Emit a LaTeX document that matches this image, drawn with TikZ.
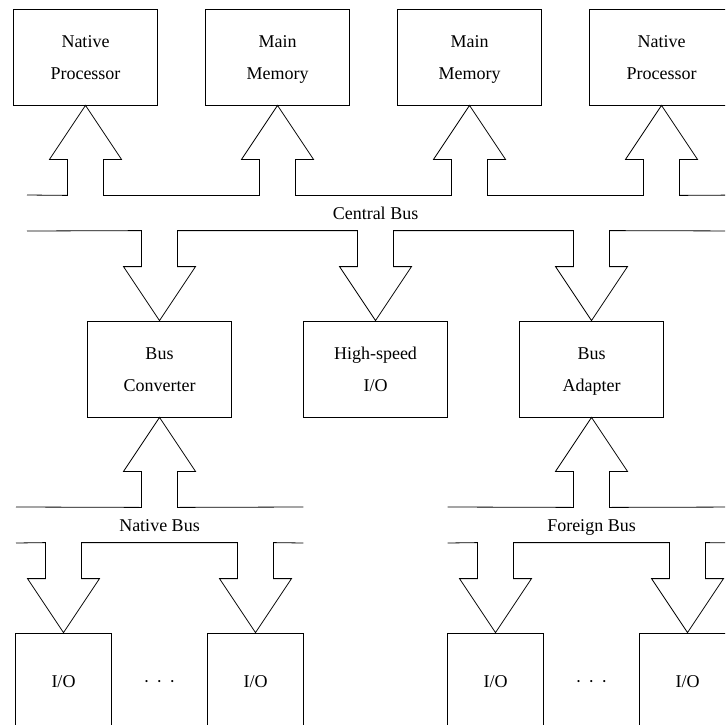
\documentclass[tikz,border=0pt]{standalone}
\usepackage{fontspec}
\setmainfont{Liberation Serif}
\usetikzlibrary{calc}
\tikzset{
  unitbox/.style={draw, line width=0.8pt, minimum width=144pt, minimum height=96pt, inner sep=0pt, align=center, font=\fontsize{18}{31.7}\selectfont},
  iobox/.style={unitbox, minimum width=96pt},
  lbl/.style={inner sep=0pt, font=\fontsize{18}{31.7}\selectfont},
  busline/.style={line width=0.8pt, line join=miter},
  busup/.style={insert path={-- ($(#1.south)+(-18,90)$) -- ($(#1.south)+(-18,54)$) -- ($(#1.south)+(-36,54)$) -- (#1.south) -- ($(#1.south)+(36,54)$) -- ($(#1.south)+(18,54)$) -- ($(#1.south)+(18,90)$)}},
  busdown/.style={insert path={-- ($(#1.north)+(-18,-90)$) -- ($(#1.north)+(-18,-54)$) -- ($(#1.north)+(-36,-54)$) -- (#1.north) -- ($(#1.north)+(36,-54)$) -- ($(#1.north)+(18,-54)$) -- ($(#1.north)+(18,-90)$)}}
}
\begin{document}
\begin{tikzpicture}[x=1pt,y=-1pt]
\useasboundingbox (0,0) rectangle (725,725);
\clip (0,0) rectangle (725,725);
% top row
\node[unitbox] (np1) at (85.5,57) {Native\strut\\Processor\strut};
\node[unitbox] (mm1) at (277.5,57) {Main\strut\\Memory\strut};
\node[unitbox] (mm2) at (469.5,57) {Main\strut\\Memory\strut};
\node[unitbox] (np2) at (661.5,57) {Native\strut\\Processor\strut};
% middle row
\node[unitbox] (bc) at (159.5,369) {Bus\strut\\Converter\strut};
\node[unitbox] (hs) at (375.5,369) {High-speed\strut\\I/O\strut};
\node[unitbox] (ba) at (591.5,369) {Bus\strut\\Adapter\strut};
% bottom row
\node[iobox] (io1) at (63.5,681) {I/O\strut};
\node[iobox] (io2) at (255.5,681) {I/O\strut};
\node[iobox] (io3) at (495.5,681) {I/O\strut};
\node[iobox] (io4) at (687.5,681) {I/O\strut};
\node[lbl] (dots1) at (159.5,681) {·\hspace{6.8pt}·\hspace{6.8pt}·\strut};
\node[lbl] (dots2) at (591.5,681) {·\hspace{6.8pt}·\hspace{6.8pt}·\strut};
% bus labels
\node[lbl] (cbus) at (375.5,213) {Central Bus\strut};
\node[lbl] (nbus) at (159.5,525) {Native Bus\strut};
\node[lbl] (fbus) at (591.5,525) {Foreign Bus\strut};
% free ends of bus lines
\coordinate (c1L) at (27,195);  \coordinate (c1R) at (745,195);
\coordinate (c2L) at (27,231);  \coordinate (c2R) at (745,231);
\coordinate (n1L) at (16,507);  \coordinate (n1R) at (303.3,507);
\coordinate (n2L) at (16,543);  \coordinate (n2R) at (303.3,543);
\coordinate (f1L) at (447.7,507); \coordinate (f1R) at (745,507);
\coordinate (f2L) at (447.7,543); \coordinate (f2R) at (745,543);
% buses
\draw[busline] (c1L) [busup=np1] [busup=mm1] [busup=mm2] [busup=np2] -- (c1R);
\draw[busline] (c2L) [busdown=bc] [busdown=hs] [busdown=ba] -- (c2R);
\draw[busline] (n1L) [busup=bc] -- (n1R);
\draw[busline] (n2L) [busdown=io1] [busdown=io2] -- (n2R);
\draw[busline] (f1L) [busup=ba] -- (f1R);
\draw[busline] (f2L) [busdown=io3] [busdown=io4] -- (f2R);
\end{tikzpicture}
\end{document}
